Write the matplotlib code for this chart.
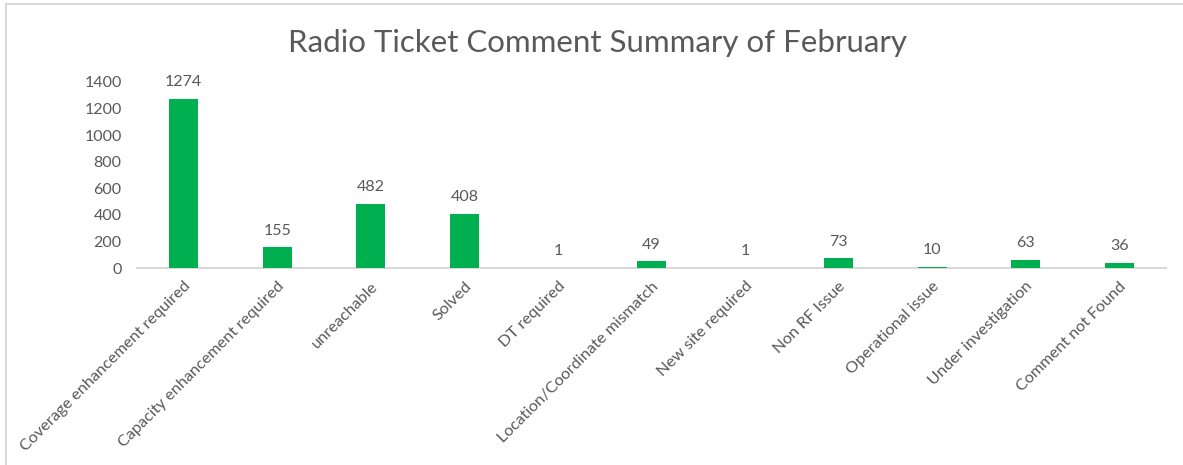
import matplotlib
matplotlib.use("Agg")
import matplotlib.pyplot as plt
from matplotlib.patches import Rectangle

categories = ["Coverage enhancement required", "Capacity enhancement required",
              "unreachable", "Solved", "DT required", "Location/Coordinate mismatch",
              "New site required", "Non RF Issue", "Operational issue",
              "Under investigation", "Comment not Found"]
values = [1274, 155, 482, 408, 1, 49, 1, 73, 10, 63, 36]
yticks = [0, 200, 400, 600, 800, 1000, 1200, 1400]
title = "Radio Ticket Comment Summary of February"

plt.rcParams['font.family'] = ['Lato', 'DejaVu Sans']
txt = '#595959'
green = '#00B050'

W, H = 1183, 465
fig = plt.figure(figsize=(W/100, H/100), dpi=100)
ax = fig.add_axes([137/W, 1-268/H, (1166-137)/W, (268-82)/H])

x = list(range(len(categories)))
ax.bar(x, values, width=0.31, color=green, zorder=3)
ax.set_xlim(-0.5, len(categories)-0.5)
ax.set_ylim(0, 1400)
ax.set_yticks(yticks)
ax.set_yticklabels([str(v) for v in yticks], color=txt, fontsize=11.5)
ax.set_xticks(x)
ax.set_xticklabels(categories, rotation=45, ha='right', rotation_mode='anchor',
                   color=txt, fontsize=11.7)
ax.tick_params(axis='both', length=0)
ax.tick_params(axis='y', pad=11)
ax.tick_params(axis='x', pad=8)
for s in ['top', 'right', 'left']:
    ax.spines[s].set_visible(False)
ax.spines['bottom'].set_color('#D9D9D9')
ax.spines['bottom'].set_linewidth(1.5)

for xi, v in zip(x, values):
    ax.annotate(str(v), (xi, v), xytext=(0, 7), textcoords='offset points',
                ha='center', va='bottom', color=txt, fontsize=11.5)

fig.text(0.5*(288+907)/W, 1-43/H, title, ha='center', va='center',
         color=txt, fontsize=22.5)

fig.patches.append(Rectangle((6/W, -0.1), 1.2, 1-4/H+0.1, transform=fig.transFigure,
                             fill=False, edgecolor='#D9D9D9', linewidth=1.5))

fig.savefig("out.png", dpi=100)
